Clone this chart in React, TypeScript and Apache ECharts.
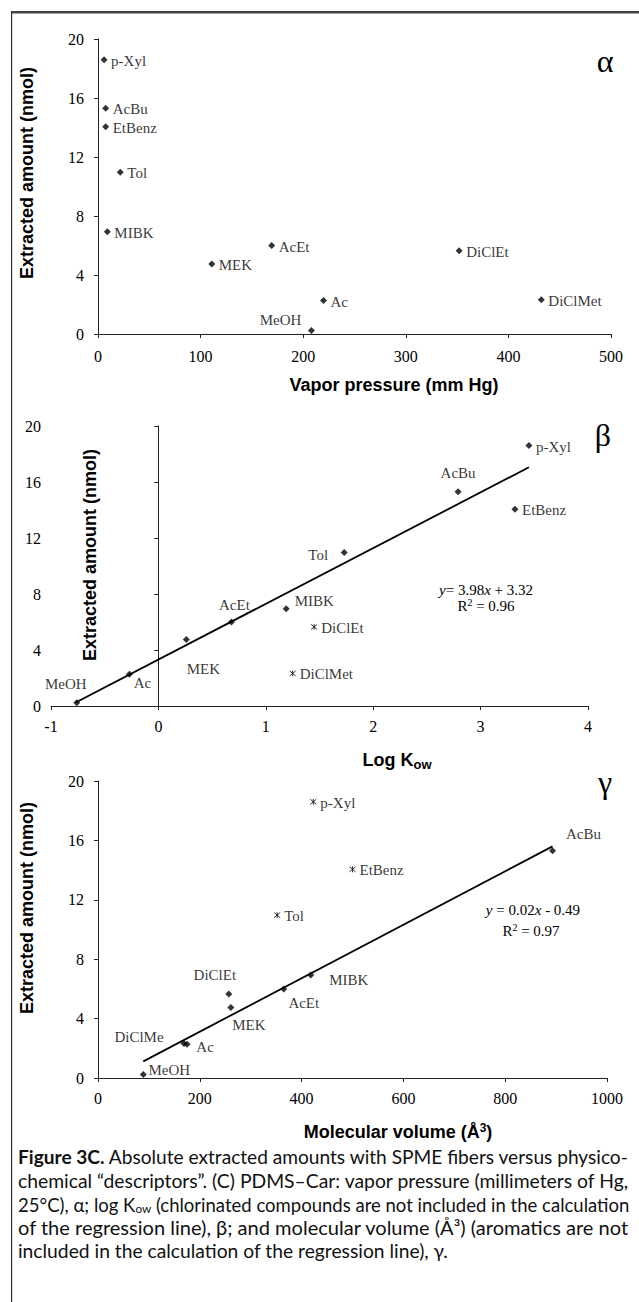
import React, { useEffect, useRef } from 'react';
import * as echarts from 'echarts';

// ---------- DATA ----------
const compounds = ['p-Xyl', 'AcBu', 'EtBenz', 'Tol', 'MIBK', 'AcEt', 'MEK', 'DiClEt', 'Ac', 'DiClMet', 'MeOH'];
const extractedAmount = [18.6, 15.3, 14.05, 10.97, 6.94, 6.0, 4.75, 5.65, 2.27, 2.33, 0.23];
const vaporPressure = [5.9, 7.5, 7.5, 21.7, 9.1, 169.3, 110.9, 352, 219.8, 432.1, 208];
const logKow = [3.45, 2.79, 3.32, 1.73, 1.19, 0.68, 0.26, 1.45, -0.27, 1.25, -0.76];
const molecularVolume = [423, 893, 500, 352, 418, 365, 261, 257, 175, 169, 89];
const gammaNames = ['p-Xyl', 'AcBu', 'EtBenz', 'Tol', 'MIBK', 'AcEt', 'MEK', 'DiClEt', 'Ac', 'DiClMe', 'MeOH'];

// compounds drawn with the star marker (excluded from the regression)
const betaExcluded = ['DiClEt', 'DiClMet'];
const gammaExcluded = ['p-Xyl', 'EtBenz', 'Tol'];

// regression lines
const betaFit = { slope: 3.98, intercept: 3.32, from: -0.77, to: 3.45 };
const gammaFitPoints = [[89, 1.12], [893, 15.6]];
const betaEquation = ['{i|y}= 3.98{i|x} + 3.32', 'R{sup|2} = 0.96'];
const gammaEquation = ['{i|y} = 0.02{i|x} - 0.49', 'R{sup|2} = 0.97'];

// ticks
const yTicks = { min: 0, max: 20, interval: 4 };
const alphaTicks = { min: 0, max: 500, interval: 100 };
const betaTicks = { min: -1, max: 4, interval: 1 };
const gammaTicks = { min: 0, max: 1000, interval: 200 };

const captionLines = [
  '{b|Figure 3C.} Absolute extracted amounts with SPME fibers versus physico-',
  'chemical \u201cdescriptors\u201d. (C) PDMS\u2013Car: vapor pressure (millimeters of Hg,',
  '25\u00b0C), \u03b1; log K{sub|ow} (chlorinated compounds are not included in the calculation',
  'of the regression line), \u03b2; and molecular volume (\u00c5\u00b3) (aromatics are not',
  'included in the calculation of the regression line), \u03b3.',
];

// ---------- LAYOUT (label offsets: dx, dy, align) ----------
type LP = [number, number, string];
const RIGHT: LP = [7, 1, 'left'];
const alphaLabelPos: Record<string, LP> = { MeOH: [-10, -11, 'right'] };
const betaLabelPos: Record<string, LP> = {
  MeOH: [-11, -19, 'center'], Ac: [13, 9, 'center'], MEK: [17, 29, 'center'],
  AcEt: [3, -17, 'center'], MIBK: [28, -8, 'center'], Tol: [-26, 3, 'center'], AcBu: [0, -19, 'center'],
};
const gammaLabelPos: Record<string, LP> = {
  AcBu: [31, -17, 'center'], MIBK: [38, 5, 'center'], AcEt: [20, 14, 'center'], MEK: [18, 18, 'center'],
  DiClEt: [-14, -19, 'center'], DiClMet: [-45, -6, 'center'], Ac: [18, 3, 'center'], MeOH: [26, -5, 'center'],
};

const SERIF = "'Liberation Serif', 'Times New Roman', serif";
const SANS = "'Liberation Sans', Arial, sans-serif";
const CAP_FONT = 'Lato';
const CAP_SIZE = 19;
const CAP_LEFT = 18;
const CAP_WIDTH = 612;
const STAR = 'path://M0,0L10,10M10,0L0,10M5,-1L5,11';

function buildPoints(xs: number[], names: string[], pos: Record<string, LP>, excluded: string[], star: boolean) {
  const out: any[] = [];
  compounds.forEach((c, i) => {
    const isStar = excluded.indexOf(c) >= 0;
    if (isStar !== star) return;
    const p = pos[c] || RIGHT;
    out.push({
      name: names[i],
      value: [xs[i], extractedAmount[i]],
      label: { offset: [p[0], p[1]], align: p[2] },
    });
  });
  return out;
}

const labelStyle = {
  show: true,
  formatter: '{b}',
  position: 'inside',
  verticalAlign: 'middle',
  fontFamily: SERIF,
  fontSize: 15,
  color: '#000',
};

function scatter(idx: number, data: any[], star: boolean) {
  return {
    type: 'scatter',
    xAxisIndex: idx,
    yAxisIndex: idx,
    data,
    symbol: star ? STAR : 'diamond',
    symbolSize: star ? 6 : 7,
    itemStyle: star
      ? { color: 'rgba(0,0,0,0)', borderColor: '#000', borderWidth: 1 }
      : { color: '#000' },
    label: labelStyle,
    emphasis: { disabled: true },
    z: 3,
  };
}

function xAxis(idx: number, t: any, margin: number) {
  return {
    type: 'value',
    gridIndex: idx,
    min: t.min,
    max: t.max,
    interval: t.interval,
    splitLine: { show: false },
    axisLine: { show: true, onZero: true, lineStyle: { color: '#222', width: 1 } },
    axisTick: { show: true, inside: false, length: 4, lineStyle: { color: '#222' } },
    axisLabel: { margin, fontFamily: SERIF, fontSize: 16, color: '#000', formatter: (v: number) => String(v) },
  };
}
function yAxis(idx: number, margin: number) {
  return {
    type: 'value',
    gridIndex: idx,
    min: yTicks.min,
    max: yTicks.max,
    interval: yTicks.interval,
    splitLine: { show: false },
    axisLine: { show: true, onZero: true, lineStyle: { color: '#222', width: 1 } },
    axisTick: { show: true, inside: false, length: 4, lineStyle: { color: '#222' } },
    axisLabel: { margin, fontFamily: SERIF, fontSize: 16, color: '#000', formatter: (v: number) => String(v) },
  };
}

function text(x: number, y: number, t: string, style: any, extra: any = {}) {
  return {
    type: 'text', x, y, ...extra,
    style: { text: t, align: 'center', verticalAlign: 'middle', fill: '#000', ...style },
  };
}

const titleStyle = { fontFamily: SANS, fontWeight: 'bold', fontSize: 18 };
const greekStyle = { fontFamily: SERIF, fontSize: 32 };
const eqStyle = {
  fontFamily: SERIF, fontSize: 15,
  rich: { i: { fontFamily: SERIF, fontSize: 15, fontStyle: 'italic' }, sup: { fontFamily: SERIF, fontSize: 10, padding: [0, 0, 8, 0] } },
};

function measureRich(line: string): number {
  const canvas = document.createElement('canvas');
  const ctx = canvas.getContext('2d');
  if (!ctx) return line.length * 8;
  const fonts: Record<string, string> = {
    base: `${CAP_SIZE}px ${CAP_FONT}`,
    b: `bold ${CAP_SIZE}px ${CAP_FONT}`,
    sub: `12px ${CAP_FONT}`,
  };
  const re = /\{(\w+)\|([^}]*)\}|([^{]+)/g;
  let w = 0;
  let m: RegExpExecArray | null;
  while ((m = re.exec(line))) {
    if (m[3] !== undefined) {
      ctx.font = fonts.base;
      w += ctx.measureText(m[3]).width;
    } else {
      ctx.font = fonts[m[1]] || fonts.base;
      w += ctx.measureText(m[2]).width;
    }
  }
  return w;
}

export default function App() {
  const ref = useRef<HTMLDivElement>(null);
  useEffect(() => {
    if (!ref.current) return;
    const chart = echarts.init(ref.current, null, { renderer: 'svg' });

    const betaLine = [
      [betaFit.from, betaFit.slope * betaFit.from + betaFit.intercept],
      [betaFit.to, betaFit.slope * betaFit.to + betaFit.intercept],
    ];

    const graphic: any[] = [
      { type: 'rect', z: 10, shape: { x: 11, y: 11, width: 628, height: 2.5 }, style: { fill: '#444' } },
      { type: 'rect', z: 10, shape: { x: 11, y: 11, width: 1.2, height: 1291 }, style: { fill: '#333' } },
      // axis titles
      text(27, 173, 'Extracted amount (nmol)', titleStyle, { rotation: Math.PI / 2 }),
      text(394, 385, 'Vapor pressure (mm Hg)', titleStyle),
      text(90, 555, 'Extracted amount (nmol)', titleStyle, { rotation: Math.PI / 2 }),
      text(397, 760, 'Log K{sub|ow}', {
        ...titleStyle,
        rich: { sub: { fontFamily: SANS, fontWeight: 'bold', fontSize: 13, padding: [9, 0, 0, 0] } },
      }),
      text(27, 908, 'Extracted amount (nmol)', titleStyle, { rotation: Math.PI / 2 }),
      text(398, 1132, 'Molecular volume (\u00c5{sup|3})', {
        ...titleStyle,
        rich: { sup: { fontFamily: SANS, fontWeight: 'bold', fontSize: 12, padding: [0, 0, 9, 0] } },
      }),
      // greek panel letters
      text(605, 61, '\u03b1', greekStyle),
      text(603, 435, '\u03b2', greekStyle),
      text(605, 782, '\u03b3', greekStyle),
      // equations
      text(486, 590, betaEquation[0], eqStyle),
      text(486, 606, betaEquation[1], eqStyle),
      text(533, 910, gammaEquation[0], eqStyle),
      text(531, 931, gammaEquation[1], eqStyle),
    ];

    const capY = [1157, 1180.5, 1204, 1227.5, 1251];
    const widths = captionLines.map(measureRich);
    const scales = widths.map((w) => CAP_WIDTH / w);
    const justified = scales.slice(0, captionLines.length - 1);
    const meanScale = justified.reduce((a, b) => a + b, 0) / justified.length;
    captionLines.forEach((line, i) => {
      const sx = i < captionLines.length - 1 ? scales[i] : meanScale;
      graphic.push({
        type: 'text', x: CAP_LEFT, y: capY[i], scaleX: sx, scaleY: 1,
        style: {
          text: line, align: 'left', verticalAlign: 'middle', fill: '#111',
          fontFamily: CAP_FONT, fontSize: CAP_SIZE,
          rich: {
            b: { fontFamily: CAP_FONT, fontSize: CAP_SIZE, fontWeight: 'bold' },
            sub: { fontFamily: CAP_FONT, fontSize: 12, padding: [8, 0, 0, 0] },
          },
        },
      });
    });

    chart.setOption({
      animation: false,
      backgroundColor: '#fff',
      grid: [
        { left: 98, top: 39, width: 513, height: 295 },
        { left: 51, top: 426, width: 537, height: 280 },
        { left: 98, top: 781, width: 509, height: 297 },
      ],
      xAxis: [xAxis(0, alphaTicks, 14), xAxis(1, betaTicks, 12), xAxis(2, gammaTicks, 12)],
      yAxis: [yAxis(0, 14), yAxis(1, 10), yAxis(2, 14)],
      series: [
        scatter(0, buildPoints(vaporPressure, compounds, alphaLabelPos, [], false), false),
        scatter(1, buildPoints(logKow, compounds, betaLabelPos, betaExcluded, false), false),
        scatter(1, buildPoints(logKow, compounds, betaLabelPos, betaExcluded, true), true),
        {
          type: 'line', xAxisIndex: 1, yAxisIndex: 1, data: betaLine, symbol: 'none',
          lineStyle: { color: '#000', width: 1.8 }, z: 2, silent: true,
        },
        scatter(2, buildPoints(molecularVolume, gammaNames, gammaLabelPos, gammaExcluded, false), false),
        scatter(2, buildPoints(molecularVolume, gammaNames, gammaLabelPos, gammaExcluded, true), true),
        {
          type: 'line', xAxisIndex: 2, yAxisIndex: 2, data: gammaFitPoints, symbol: 'none',
          lineStyle: { color: '#000', width: 1.8 }, z: 2, silent: true,
        },
      ],
      graphic,
    });
    return () => chart.dispose();
  }, []);
  return (
    <div
      ref={ref}
      style={{ position: 'absolute', left: 0, top: 0, width: 639, height: 1302, background: '#fff' }}
    />
  );
}
